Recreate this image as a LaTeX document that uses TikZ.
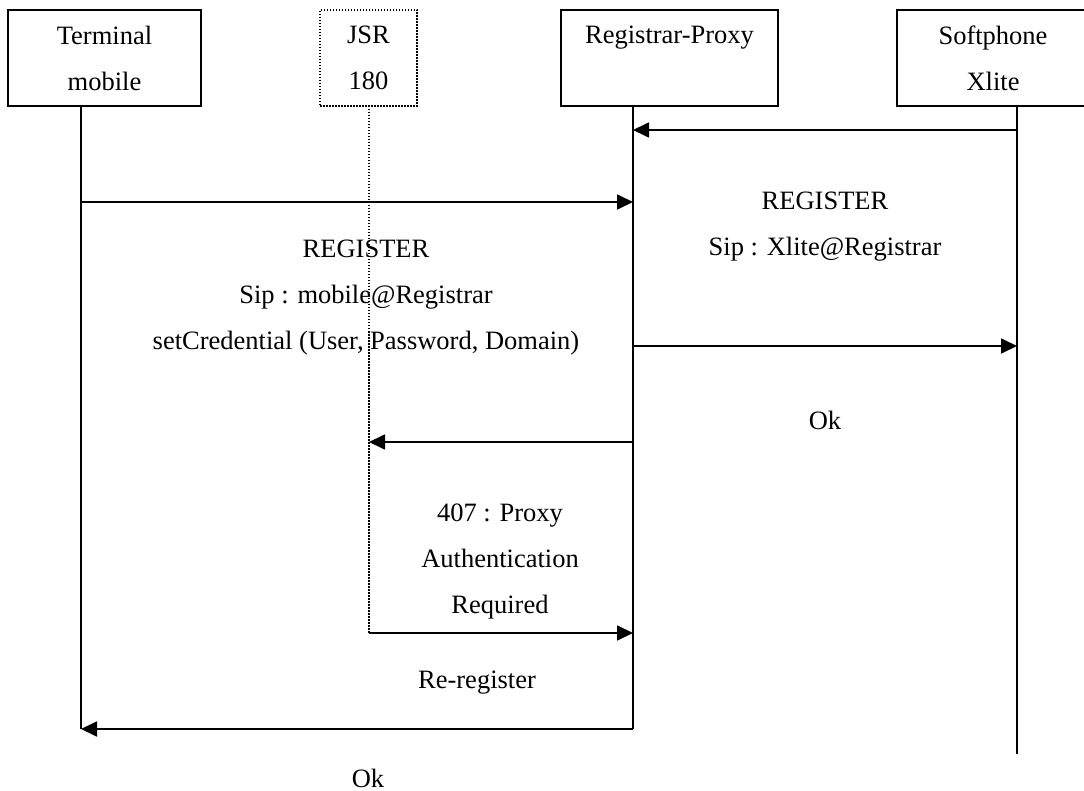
\documentclass[tikz,border=0pt]{standalone}
\usepackage{fontspec}
\setmainfont{Liberation Serif}
\usetikzlibrary{arrows.meta}
\begin{document}
\begin{tikzpicture}[x=1pt,y=-1pt,
  txt/.style={font=\fontsize{26.5}{46}\selectfont,inner sep=0pt,align=center},
  actor/.style={txt,draw,line width=1.8pt,minimum height=96pt},
  jsrbox/.style={txt,draw,line width=1.4pt,dash pattern=on 1.5pt off 1.5pt,minimum height=96pt},
  life/.style={line width=1.8pt},
  dotlife/.style={line width=1.3pt,dash pattern=on 1.5pt off 1.5pt},
  msg/.style={line width=1.8pt,-{Triangle[length=16pt,width=15pt]}}
]
\useasboundingbox (0,0) rectangle (1084,791);
\clip (0,0) rectangle (1084,791);

% actors
\node[actor,minimum width=193pt] (T) at (104.5,58) {Terminal\\mobile};
\node[jsrbox,minimum width=97pt] (J) at (368.5,58) {JSR\\180};
\node[actor,minimum width=217pt] (P) at (669.5,58) {Registrar-Proxy\\\phantom{X}};
\node[actor,minimum width=192pt] (S) at (993,58) {Softphone\\Xlite};

% lifeline ends
\coordinate (Ttop) at (81,106);   \coordinate (Tbot) at (81,729);
\coordinate (Jtop) at (369,106);  \coordinate (Jbot) at (369,633);
\coordinate (Ptop) at (633,106);  \coordinate (Pbot) at (633,729);
\coordinate (Stop) at (1017,106); \coordinate (Sbot) at (1017,754);

\draw[life] (Ttop) -- (Tbot);
\draw[dotlife] (Jtop) -- (Jbot);
\draw[life] (Ptop) -- (Pbot);
\draw[life] (Stop) -- (Sbot);

% message end points
\coordinate (m1a) at (1017,130); \coordinate (m1b) at (633,130);
\coordinate (m2a) at (81,202);   \coordinate (m2b) at (633,202);
\coordinate (m3a) at (633,346);  \coordinate (m3b) at (1017,346);
\coordinate (m4a) at (633,442);  \coordinate (m4b) at (369,442);
\coordinate (m5a) at (369,633);  \coordinate (m5b) at (633,633);
\coordinate (m6a) at (633,729);  \coordinate (m6b) at (81,729);

\draw[msg] (m1a) -- (m1b);
\draw[msg] (m2a) -- (m2b);
\draw[msg] (m3a) -- (m3b);
\draw[msg] (m4a) -- (m4b);
\draw[msg] (m5a) -- (m5b);
\draw[msg] (m6a) -- (m6b);

% labels
\node[txt] (l1) at (366,298) {REGISTER\\Sip : mobile@Registrar\\setCredential (User, Password, Domain)};
\node[txt] (l2) at (825,226.5) {REGISTER\\Sip : Xlite@Registrar};
\node[txt] (l3) at (825,420) {Ok};
\node[txt] (l4) at (500,562) {407 : Proxy\\Authentication\\Required};
\node[txt] (l5) at (477,683) {Re-register};
\node[txt] (l6) at (368,778) {Ok};
\end{tikzpicture}
\end{document}
